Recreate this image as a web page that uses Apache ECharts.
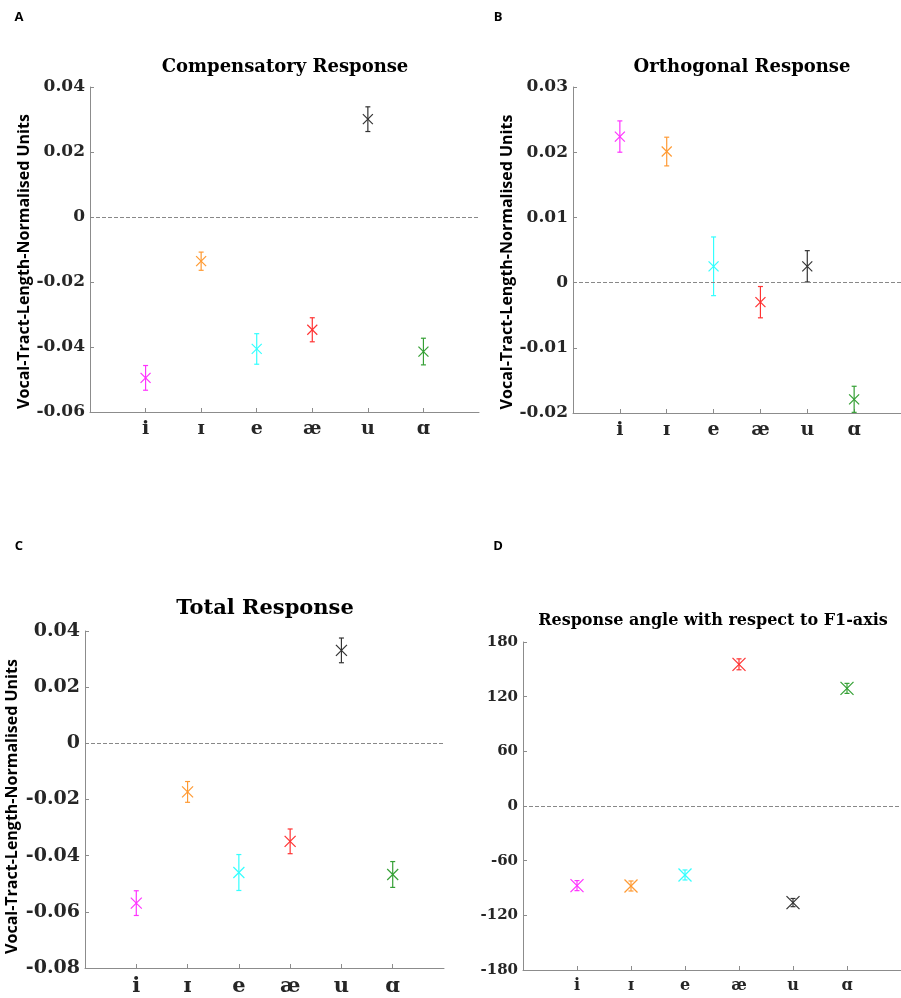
<!DOCTYPE html>
<html>
<head>
<meta charset="utf-8">
<script src="https://cdn.jsdelivr.net/npm/echarts@6/dist/echarts.min.js"></script>
<style>
html,body{margin:0;padding:0;background:#fff;}
#chart{width:901px;height:998px;}
</style>
</head>
<body>
<div id="chart"></div>
<script>
// ---- data ----
const vowels = ['i', 'ɪ', 'e', 'æ', 'u', 'ɑ'];
const vowelColors = ['#ff33ff', '#ff9a33', '#33ffff', '#ff3333', '#333333', '#35a035'];

const compMean = [-0.0495, -0.0136, -0.0406, -0.0347, 0.0301, -0.0414];
const compErr  = [0.0038, 0.0028, 0.0047, 0.0037, 0.0038, 0.0041];

const orthMean = [0.0224, 0.0201, 0.0025, -0.0030, 0.0025, -0.0179];
const orthErr  = [0.0024, 0.0022, 0.0045, 0.0024, 0.0024, 0.0020];

const totalMean = [-0.0569, -0.0173, -0.0460, -0.0349, 0.0331, -0.0467];
const totalErr  = [0.0044, 0.0037, 0.0064, 0.0044, 0.0044, 0.0046];

const angleMean = [-87.4, -87.8, -75.7, 155.5, -106.0, 129.1];
const angleErr  = [5.5, 5.5, 5.5, 6.0, 4.5, 5.5];

const yName = 'Vocal-Tract-Length-Normalised Units';

// ---- helpers ----
const SERIF = '"DejaVu Serif", serif';
const AXIS_GREY = '#8c8c8c';

function toData(mean, err) {
  return mean.map((m, i) => [i + 1, m, err[i]]);
}

function makeRender(crossHalf) {
  return function (params, api) {
    const x = api.value(0), y = api.value(1), e = api.value(2);
    const p = api.coord([x, y]);
    const t = api.coord([x, y + e]);
    const b = api.coord([x, y - e]);
    const c = vowelColors[params.dataIndex];
    const cap = 2.5, s = crossHalf;
    const st = { stroke: c, lineWidth: 1.2 };
    return {
      type: 'group',
      children: [
        { type: 'line', shape: { x1: p[0], y1: t[1], x2: p[0], y2: b[1] }, style: st },
        { type: 'line', shape: { x1: p[0] - cap, y1: t[1], x2: p[0] + cap, y2: t[1] }, style: st },
        { type: 'line', shape: { x1: p[0] - cap, y1: b[1], x2: p[0] + cap, y2: b[1] }, style: st },
        { type: 'line', shape: { x1: p[0] - s, y1: p[1] - s, x2: p[0] + s, y2: p[1] + s }, style: st },
        { type: 'line', shape: { x1: p[0] - s, y1: p[1] + s, x2: p[0] + s, y2: p[1] - s }, style: st }
      ]
    };
  };
}

const panels = [
  { grid: { left: 90, top: 87, width: 389, height: 325 }, min: -0.06, max: 0.04, interval: 0.02,
    mean: compMean, err: compErr, yfs: 17, xfs: 19, name: true, nameGap: 57, namePad: [0, 24, 0, 0], cross: 5 },
  { grid: { left: 573, top: 87, width: 336, height: 326 }, min: -0.02, max: 0.03, interval: 0.01,
    mean: orthMean, err: orthErr, yfs: 17, xfs: 19, name: true, nameGap: 55, namePad: [0, 24, 0, 0], cross: 5 },
  { grid: { left: 85, top: 631, width: 359, height: 337 }, min: -0.08, max: 0.04, interval: 0.02,
    mean: totalMean, err: totalErr, yfs: 19, xfs: 21, name: true, nameGap: 65, namePad: [0, 14, 0, 0], cross: 5.5 },
  { grid: { left: 523, top: 642, width: 382, height: 328 }, min: -180, max: 180, interval: 60,
    mean: angleMean, err: angleErr, yfs: 15, xfs: 16, name: false, nameGap: 0, namePad: 0, cross: 6.5 }
];

const grids = [], xAxes = [], yAxes = [], series = [];
panels.forEach((pn, k) => {
  grids.push(Object.assign({ containLabel: false }, pn.grid));
  xAxes.push({
    type: 'value', gridIndex: k, min: 0, max: 7, interval: 1,
    splitLine: { show: false },
    axisLine: { show: true, onZero: false, lineStyle: { color: AXIS_GREY, width: 1 } },
    axisTick: { show: true, inside: true, length: 4, customValues: [1, 2, 3, 4, 5, 6], lineStyle: { color: AXIS_GREY } },
    axisLabel: {
      show: true, customValues: [1, 2, 3, 4, 5, 6], margin: 8,
      formatter: v => vowels[Math.round(v) - 1] || '',
      fontFamily: SERIF, fontWeight: 'bold', fontSize: pn.xfs, color: '#262626'
    }
  });
  yAxes.push({
    type: 'value', gridIndex: k, min: pn.min, max: pn.max, interval: pn.interval,
    splitLine: { show: false },
    axisLine: { show: true, onZero: false, lineStyle: { color: AXIS_GREY, width: 1 } },
    axisTick: { show: true, inside: true, length: 4, lineStyle: { color: AXIS_GREY } },
    axisLabel: {
      margin: 5, fontFamily: SERIF, fontWeight: 'bold', fontSize: pn.yfs, color: '#262626',
      formatter: v => String(Math.round(v * 1000) / 1000)
    },
    name: pn.name ? yName : '',
    nameLocation: 'middle', nameRotate: 90, nameGap: pn.nameGap,
    nameTextStyle: { fontFamily: '"Open Sans", sans-serif', fontWeight: 'bold', fontSize: 16, color: '#000', padding: pn.namePad }
  });
  series.push({
    type: 'custom', xAxisIndex: k, yAxisIndex: k,
    renderItem: makeRender(pn.cross),
    data: toData(pn.mean, pn.err),
    encode: { x: 0, y: 1 },
    silent: true,
    markLine: {
      silent: true, symbol: 'none', label: { show: false },
      lineStyle: { color: '#888888', type: 'dashed', width: 1 },
      data: [{ yAxis: 0 }]
    }
  });
});

const titleFont = (sz) => 'bold ' + sz + 'px ' + SERIF;
const letterFont = 'bold 13px "Open Sans", sans-serif';

const graphic = [
  { type: 'text', x: 285, y: 67, style: { text: 'Compensatory Response', font: titleFont(18), fill: '#000', align: 'center', verticalAlign: 'middle' } },
  { type: 'text', x: 742, y: 67, style: { text: 'Orthogonal Response', font: titleFont(18), fill: '#000', align: 'center', verticalAlign: 'middle' } },
  { type: 'text', x: 265, y: 609, style: { text: 'Total Response', font: titleFont(21), fill: '#000', align: 'center', verticalAlign: 'middle' } },
  { type: 'text', x: 713, y: 621, style: { text: 'Response angle with respect to F1-axis', font: titleFont(16), fill: '#000', align: 'center', verticalAlign: 'middle' } },
  { type: 'text', x: 19, y: 17, style: { text: 'A', font: letterFont, fill: '#000', align: 'center', verticalAlign: 'middle' } },
  { type: 'text', x: 498, y: 17, style: { text: 'B', font: letterFont, fill: '#000', align: 'center', verticalAlign: 'middle' } },
  { type: 'text', x: 19, y: 546, style: { text: 'C', font: letterFont, fill: '#000', align: 'center', verticalAlign: 'middle' } },
  { type: 'text', x: 498, y: 546, style: { text: 'D', font: letterFont, fill: '#000', align: 'center', verticalAlign: 'middle' } }
];

const chart = echarts.init(document.getElementById('chart'), null, { renderer: 'canvas' });
chart.setOption({
  animation: false,
  backgroundColor: '#ffffff',
  grid: grids,
  xAxis: xAxes,
  yAxis: yAxes,
  series: series,
  graphic: graphic
});
</script>
</body>
</html>
